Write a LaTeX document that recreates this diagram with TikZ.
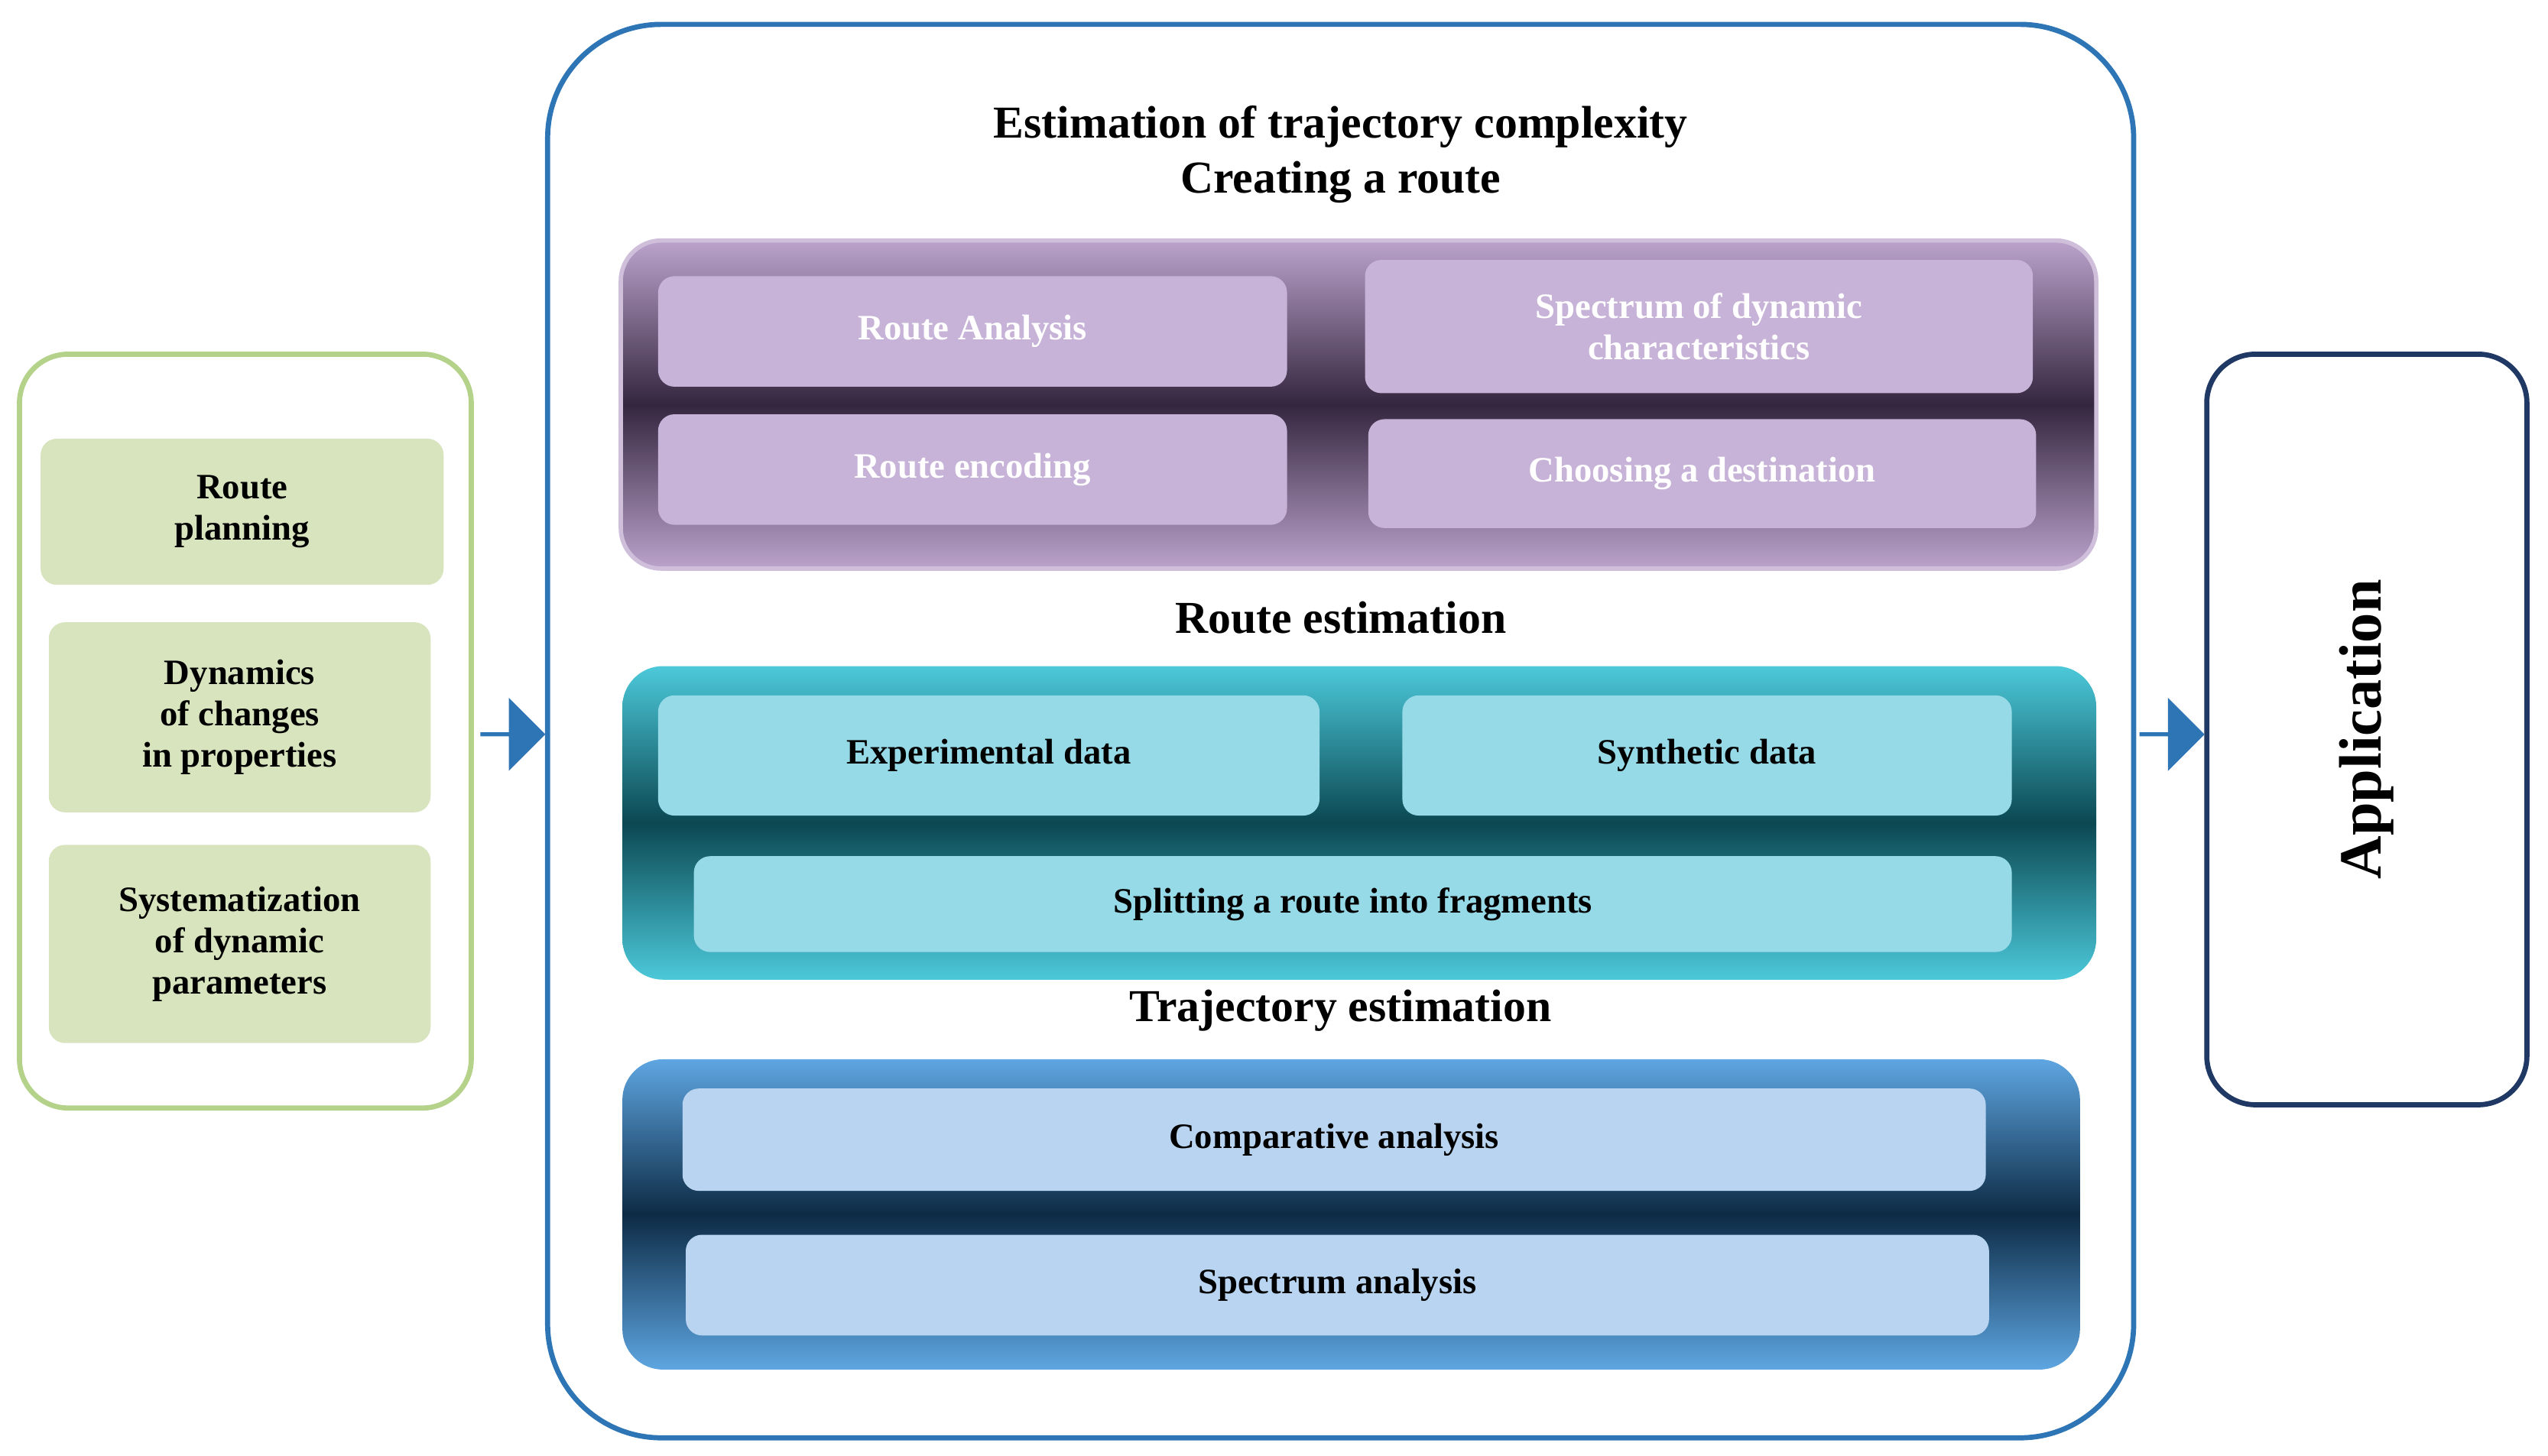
\documentclass[tikz,border=0pt]{standalone}
\usepackage{fontspec}
\setmainfont{Liberation Serif}
\usetikzlibrary{shapes.arrows}
\definecolor{gbord}{HTML}{B5D28A}
\definecolor{gfill}{HTML}{D7E4BD}
\definecolor{cblue}{HTML}{2E75B6}
\definecolor{navy}{HTML}{1F3864}
\definecolor{pedge}{HTML}{BBA3CC}
\definecolor{pdark}{HTML}{35263F}
\definecolor{pbox}{HTML}{C8B3D8}
\definecolor{tedge}{HTML}{4CC9DA}
\definecolor{tdark}{HTML}{0B4852}
\definecolor{tbox}{HTML}{96D9E7}
\definecolor{bedge}{HTML}{5EA6E2}
\definecolor{bdark}{HTML}{0D2B45}
\definecolor{bbox}{HTML}{B8D4F0}
\newcommand{\bx}[7]{%
  \pgfmathsetmacro{\cx}{(#2+#4)/2}\pgfmathsetmacro{\cy}{(#3+#5)/2}%
  \pgfmathsetmacro{\ww}{(#4-#2)*0.02}\pgfmathsetmacro{\hh}{(#5-#3)*0.02}%
  \node[#6, minimum width=\ww cm, minimum height=\hh cm] (#1) at (\cx,\cy) {#7};}
\tikzset{
  base/.style={rounded corners=0.2cm, inner sep=0pt, align=center, font=\bfseries\fontsize{12.5}{14.5}\selectfont},
  gbox/.style={base, fill=gfill},
  pb/.style={base, fill=pbox, text=white},
  tb/.style={base, fill=tbox},
  bb/.style={base, fill=bbox},
  title/.style={font=\bfseries\fontsize{16}{19}\selectfont},
  barrow/.style={single arrow, fill=cblue, minimum width=0.9cm, single arrow head extend=0.12cm, minimum height=0.8cm, inner sep=0pt}
}
\begin{document}
\begin{tikzpicture}[x=0.02cm,y=-0.02cm]
\useasboundingbox (0,0) rectangle (1568,896);
% left
\bx{left}{12}{218}{290}{682}{draw=gbord, line width=1.8pt, rounded corners=0.6cm}{}
\bx{g1}{25}{270}{273}{360}{gbox}{Route\\planning}
\bx{g2}{30}{383}{265}{500}{gbox}{Dynamics\\of changes\\in properties}
\bx{g3}{30}{520}{265}{642}{gbox}{Systematization\\of dynamic\\parameters}
% center
\bx{center}{337}{15}{1313}{885}{draw=cblue, line width=1.8pt, rounded corners=1.4cm}{}
\node[title] (t1) at (825,78) {Estimation of trajectory complexity};
\node[title] (t2) at (825,112) {Creating a route};
\shade[rounded corners=0.5cm, top color=pedge, bottom color=pedge, middle color=pdark, draw=pedge!70!white, line width=1.5pt] (382,148) rectangle (1290,350);
\bx{p1}{405}{170}{792}{238}{pb}{Route Analysis}
\bx{p2}{840}{160}{1251}{242}{pb}{Spectrum of dynamic\\characteristics}
\bx{p3}{405}{255}{792}{323}{pb}{Route encoding}
\bx{p4}{842}{258}{1253}{325}{pb}{Choosing a destination}
\node[title] (t3) at (825,380) {Route estimation};
\shade[rounded corners=0.5cm, top color=tedge, bottom color=tedge, middle color=tdark] (383,410) rectangle (1290,603);
\bx{c1}{405}{428}{812}{502}{tb}{Experimental data}
\bx{c2}{863}{428}{1238}{502}{tb}{Synthetic data}
\bx{c3}{427}{527}{1238}{586}{tb}{Splitting a route into fragments}
\node[title] (t4) at (825,622) {Trajectory estimation};
\shade[rounded corners=0.5cm, top color=bedge, bottom color=bedge, middle color=bdark] (383,652) rectangle (1280,843);
\bx{b1}{420}{670}{1222}{733}{bb}{Comparative analysis}
\bx{b2}{422}{760}{1224}{822}{bb}{Spectrum analysis}
% right
\bx{right}{1358}{218}{1555}{680}{draw=navy, line width=1.8pt, rounded corners=0.6cm}{}
\node[rotate=90, font=\bfseries\fontsize{21}{24}\selectfont] (app) at (right.center) {Application};
% arrows
\node[barrow] (a1) at (315,452) {};
\node[barrow] (a2) at (1336,452) {};
\end{tikzpicture}
\end{document}
